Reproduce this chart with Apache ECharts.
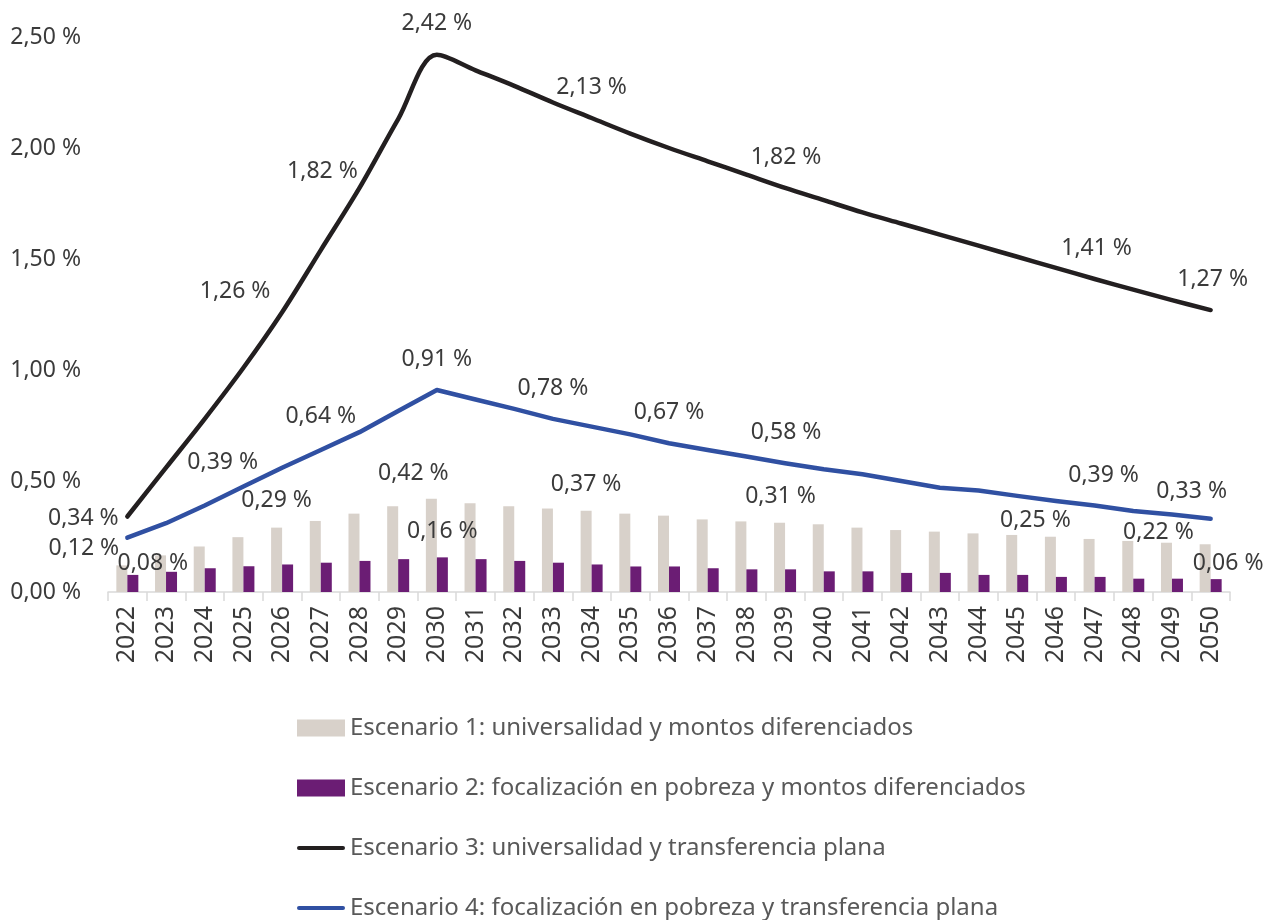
<!DOCTYPE html>
<html>
<head>
<meta charset="utf-8">
<script src="https://cdn.jsdelivr.net/npm/echarts@6/dist/echarts.min.js"></script>
<style>
html,body{margin:0;padding:0;background:#ffffff;}
#chart{width:1277px;height:920px;}
</style>
</head>
<body>
<div id="chart"></div>
<script>
// ---------- data ----------
const years = ['2022','2023','2024','2025','2026','2027','2028','2029','2030','2031',
  '2032','2033','2034','2035','2036','2037','2038','2039','2040','2041',
  '2042','2043','2044','2045','2046','2047','2048','2049','2050'];

const seriesNames = [
  'Escenario 1: universalidad y montos diferenciados',
  'Escenario 2: focalización en pobreza y montos diferenciados',
  'Escenario 3: universalidad y transferencia plana',
  'Escenario 4: focalización en pobreza y transferencia plana'
];

// Escenario 1 (bars)
const escenario1 = [0.12,0.165,0.205,0.247,0.29,0.32,0.353,0.386,0.42,0.40,
  0.386,0.376,0.366,0.353,0.344,0.327,0.318,0.312,0.305,0.29,
  0.279,0.272,0.264,0.257,0.249,0.239,0.23,0.222,0.215];

// Escenario 2 (bars)
const escenario2 = [0.077,0.091,0.107,0.116,0.124,0.132,0.14,0.148,0.156,0.148,
  0.14,0.132,0.124,0.115,0.115,0.107,0.102,0.102,0.093,0.093,
  0.086,0.086,0.077,0.077,0.068,0.068,0.06,0.06,0.058];

// Escenario 3 (line)
const escenario3 = [0.34,0.56,0.78,1.01,1.26,1.54,1.82,2.13,2.42,2.35,
  2.28,2.205,2.135,2.065,2.0,1.94,1.88,1.82,1.765,1.71,
  1.66,1.61,1.56,1.51,1.46,1.41,1.362,1.315,1.27];

// Escenario 4 (line)
const escenario4 = [0.245,0.31,0.39,0.475,0.56,0.64,0.72,0.815,0.91,0.867,
  0.825,0.78,0.745,0.71,0.67,0.64,0.61,0.58,0.553,0.53,
  0.50,0.47,0.457,0.433,0.41,0.39,0.365,0.349,0.33];

const yTickValues = [0, 0.5, 1, 1.5, 2, 2.5];

// ---------- label placement (style only: index -> pixel offset) ----------
const labelPos1 = {0:[-38,9], 4:[0,-2], 8:[-18,0], 12:[0,-1], 17:[1,-1], 24:[-15,9], 27:[-8,15]};
const labelPos2 = {0:[20,14], 8:[0,0], 28:[12,10]};
const labelPos3 = {0:[-44,34], 4:[-47,11], 6:[-37,15], 8:[0,1], 12:[0,1], 17:[1,1], 25:[2,1], 28:[2,1]};
const labelPos4 = {2:[18,-11], 5:[0,-1], 8:[0,1], 11:[0,2], 14:[0,1], 17:[1,1], 25:[9,2], 28:[-19,5]};

const FONT = '"Noto Sans", "Open Sans", sans-serif';
const TEXT = '#3b3b3b';

function fmt(v){ return v.toFixed(2).replace('.', ',') + ' %'; }
function withLabels(values, pos){
  return values.map((v,i) => pos[i] ? {value: v, label: {show: true, offset: pos[i]}} : v);
}
const baseLabel = (dist) => ({
  show: false, position: 'top', distance: dist,
  formatter: p => fmt(p.value),
  fontFamily: FONT, fontSize: 23, color: TEXT
});

const lineIcon = 'path://M2,0 H46 A2,2 0 0 1 46,4 H2 A2,2 0 0 1 2,0 Z';

const chart = echarts.init(document.getElementById('chart'), null, {renderer: 'canvas'});
chart.setOption({
  animation: false,
  backgroundColor: '#ffffff',
  textStyle: {fontFamily: FONT},
  grid: {left: 108, right: 47, top: 37, bottom: 328, containLabel: false},
  legend: {
    orient: 'vertical', left: 297, top: 716, height: 260, padding: 0,
    itemWidth: 48, itemHeight: 17, itemGap: 36,
    textStyle: {fontFamily: FONT, fontSize: 24, lineHeight: 24, color: '#595959'},
    data: [
      {name: seriesNames[0], icon: 'rect'},
      {name: seriesNames[1], icon: 'rect'},
      {name: seriesNames[2], icon: lineIcon},
      {name: seriesNames[3], icon: lineIcon}
    ]
  },
  xAxis: {
    type: 'category', data: years, boundaryGap: true,
    axisLine: {show: true, lineStyle: {color: '#d9d9d9', width: 1.5}},
    axisTick: {show: true, alignWithLabel: false, length: 9, lineStyle: {color: '#d9d9d9', width: 1.5}},
    axisLabel: {interval: 0, rotate: 90, margin: 14, fontFamily: FONT, fontSize: 25, color: TEXT},
    splitLine: {show: false}
  },
  yAxis: {
    type: 'value', min: 0, max: 2.5, interval: 0.5,
    axisLine: {show: false}, axisTick: {show: false}, splitLine: {show: false},
    axisLabel: {margin: 27, fontFamily: FONT, fontSize: 23, color: TEXT,
      formatter: v => yTickValues.indexOf(v) >= 0 ? fmt(v) : ''}
  },
  series: [
    {
      name: seriesNames[0], type: 'bar', barWidth: 11, barGap: '0%',
      itemStyle: {color: '#d8d1ca'},
      label: baseLabel(14),
      data: withLabels(escenario1, labelPos1), z: 2
    },
    {
      name: seriesNames[1], type: 'bar', barWidth: 11, barGap: '0%',
      itemStyle: {color: '#6b1d74'},
      label: baseLabel(14),
      data: withLabels(escenario2, labelPos2), z: 2
    },
    {
      name: seriesNames[2], type: 'line', smooth: 0.33,
      symbol: 'circle', symbolSize: 1, showSymbol: true,
      itemStyle: {color: '#231f20'},
      lineStyle: {color: '#231f20', width: 4.5, cap: 'round', join: 'round'},
      label: baseLabel(20),
      data: withLabels(escenario3, labelPos3), z: 3
    },
    {
      name: seriesNames[3], type: 'line', smooth: false,
      symbol: 'circle', symbolSize: 1, showSymbol: true,
      itemStyle: {color: '#3050a2'},
      lineStyle: {color: '#3050a2', width: 4.5, cap: 'round', join: 'round'},
      label: baseLabel(20),
      data: withLabels(escenario4, labelPos4), z: 3
    }
  ]
});
</script>
</body>
</html>
